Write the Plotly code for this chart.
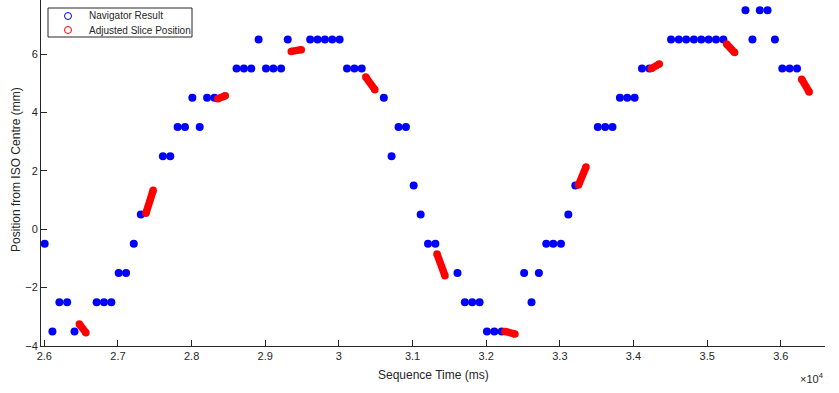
import plotly.graph_objects as go

# Navigator result samples (time in ms, position in mm)
nav_time = [26005, 26110, 26205, 26310, 26410, 26710, 26810, 26910, 27010, 27110,
            27215, 27310, 27610, 27710, 27810, 27910, 28010, 28110, 28210, 28310,
            28610, 28710, 28810, 28910, 29010, 29110, 29215, 29305, 29610, 29710,
            29810, 29910, 30010, 30110, 30210, 30310, 30610, 30715, 30810, 30910,
            31015, 31110, 31210, 31310, 31610, 31710, 31810, 31910, 32010, 32110,
            32210, 32515, 32615, 32715, 32815, 32910, 33015, 33115, 33210, 33515,
            33615, 33715, 33815, 33915, 34015, 34115, 34215, 34510, 34615, 34715,
            34820, 34920, 35020, 35120, 35220, 35520, 35615, 35715, 35820, 35920,
            36020, 36120, 36220]
nav_pos = [-0.5, -3.5, -2.5, -2.5, -3.5, -2.5, -2.5, -2.5, -1.5, -1.5,
           -0.5, 0.5, 2.5, 2.5, 3.5, 3.5, 4.5, 3.5, 4.5, 4.5,
           5.5, 5.5, 5.5, 6.5, 5.5, 5.5, 5.5, 6.5, 6.5, 6.5,
           6.5, 6.5, 6.5, 5.5, 5.5, 5.5, 4.5, 2.5, 3.5, 3.5,
           1.5, 0.5, -0.5, -0.5, -1.5, -2.5, -2.5, -2.5, -3.5, -3.5,
           -3.5, -1.5, -2.5, -1.5, -0.5, -0.5, -0.5, 0.5, 1.5, 3.5,
           3.5, 3.5, 4.5, 4.5, 4.5, 5.5, 5.5, 6.5, 6.5, 6.5,
           6.5, 6.5, 6.5, 6.5, 6.5, 7.5, 6.5, 7.5, 7.5, 6.5,
           5.5, 5.5, 5.5]

# Adjusted slice position segments (start/end time and position)
adj_t_start = [26475, 27380, 28355, 29353, 30365, 31332, 32254, 33253, 34241, 35264, 36283]
adj_t_end   = [26565, 27478, 28457, 29489, 30488, 31440, 32390, 33355, 34350, 35373, 36385]
adj_p_start = [-3.25, 0.55, 4.47, 6.09, 5.21, -0.85, -3.50, 1.51, 5.50, 6.34, 5.14]
adj_p_end   = [-3.55, 1.33, 4.57, 6.15, 4.78, -1.59, -3.59, 2.13, 5.66, 6.05, 4.70]

x_tickvals = [26000, 27000, 28000, 29000, 30000, 31000, 32000, 33000, 34000, 35000, 36000]
x_ticktext = ["2.6", "2.7", "2.8", "2.9", "3", "3.1", "3.2", "3.3", "3.4", "3.5", "3.6"]
y_tickvals = [-4, -2, 0, 2, 4, 6]

legend_names = ["Navigator Result", "Adjusted Slice Position"]

BLUE = "#0000FF"
RED = "#FF0000"
FONT = "Liberation Sans, Arial, sans-serif"
TXT = "#262626"

W, H = 839, 393
ML, MR, MT, MB = 41, 14, 0, 47
PW, PH = W - ML - MR, H - MT - MB


def px(xp):
    return (xp - ML) / PW


def py(yp):
    return (H - MB - yp) / PH


seg_x, seg_y = [], []
for t0, t1, p0, p1 in zip(adj_t_start, adj_t_end, adj_p_start, adj_p_end):
    seg_x += [t0, t1, None]
    seg_y += [p0, p1, None]

fig = go.Figure()
fig.add_trace(go.Scatter(x=nav_time, y=nav_pos, mode="markers", name=legend_names[0],
                         marker=dict(color=BLUE, size=8, line=dict(width=0)),
                         showlegend=False, hoverinfo="skip", cliponaxis=False))
fig.add_trace(go.Scatter(x=seg_x, y=seg_y, mode="lines+markers", name=legend_names[1],
                         line=dict(color=RED, width=7.5),
                         marker=dict(color=RED, size=7.5, line=dict(width=0)),
                         showlegend=False, hoverinfo="skip", cliponaxis=False))

axis_common = dict(showline=True, linecolor=TXT, linewidth=1, ticks="inside",
                   ticklen=6, tickcolor=TXT, showgrid=False, zeroline=False,
                   automargin=False,
                   tickfont=dict(family=FONT, size=11, color=TXT), mirror=False)

shapes = [
    # legend box
    dict(type="rect", xref="paper", yref="paper", x0=px(48), x1=px(192), y0=py(37), y1=py(8),
         line=dict(color=TXT, width=1), fillcolor="white", layer="above"),
]
annotations = []
for name, col, yy in zip(legend_names, [BLUE, RED], [16, 30]):
    shapes.append(dict(type="circle", xref="paper", yref="paper", xsizemode="pixel", ysizemode="pixel",
                       xanchor=px(68), yanchor=py(yy), x0=-3.5, x1=3.5, y0=-3.5, y1=3.5,
                       line=dict(color=col, width=1), layer="above"))
    annotations.append(dict(text=name, xref="paper", yref="paper", x=px(87), y=py(yy),
                            xanchor="left", yanchor="middle", showarrow=False,
                            font=dict(family=FONT, size=10, color=TXT)))

annotations += [
    dict(text="Sequence Time (ms)", xref="paper", yref="paper", x=px(433), y=py(375),
         xanchor="center", yanchor="middle", showarrow=False,
         font=dict(family=FONT, size=12, color=TXT)),
    dict(text="Position from ISO Centre (mm)", xref="paper", yref="paper", x=px(16), y=py(170),
         xanchor="center", yanchor="middle", showarrow=False, textangle=-90,
         font=dict(family=FONT, size=12, color=TXT)),
    dict(text="×10<sup>4</sup>", xref="paper", yref="paper", x=px(826), y=py(378),
         xanchor="right", yanchor="middle", showarrow=False,
         font=dict(family=FONT, size=11, color=TXT)),
]

fig.update_layout(
    width=W, height=H,
    margin=dict(l=ML, r=MR, t=MT, b=MB),
    paper_bgcolor="white", plot_bgcolor="white",
    font=dict(family=FONT, color=TXT),
    showlegend=False,
    xaxis=dict(range=[25955, 36600], tickvals=x_tickvals, ticktext=x_ticktext, **axis_common),
    yaxis=dict(range=[-4, 7.85], tickvals=y_tickvals, **axis_common),
    shapes=shapes,
    annotations=annotations,
)

fig.write_html("out.html", config={"displayModeBar": False},
               post_script="document.body.style.margin='0';document.body.style.overflow='hidden';")
